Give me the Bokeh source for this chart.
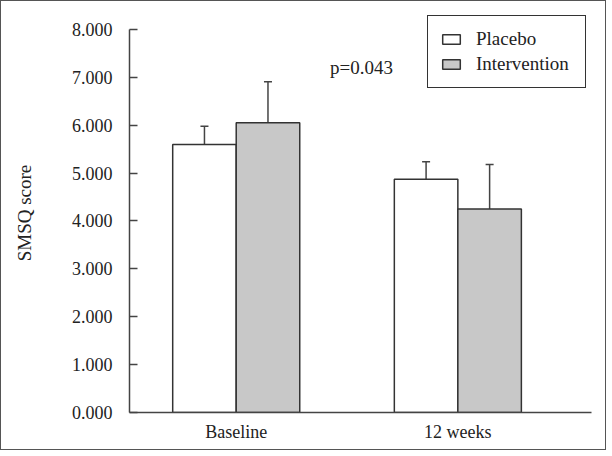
from bokeh.plotting import figure
from bokeh.models import (ColumnDataSource, Range1d, Whisker, TeeHead, Legend,
                          LegendItem, Label, FixedTicker, PrintfTickFormatter)
from bokeh.embed import file_html
from bokeh.resources import INLINE

# ---- data ----
categories = ["Baseline", "12 weeks"]
series = ["Placebo", "Intervention"]
placebo_mean = [5.60, 4.87]
placebo_sd = [0.38, 0.37]
intervention_mean = [6.05, 4.25]
intervention_sd = [0.86, 0.93]
y_ticks = [0, 1, 2, 3, 4, 5, 6, 7, 8]
p_text = "p=0.043"

FONT = "Liberation Serif"
BAR_W = 0.2866
group_x = [i + 1 for i in range(len(categories))]

p = figure(frame_width=462, frame_height=399,
           x_range=Range1d(0.5185, 2.603), y_range=Range1d(0, 8.334),
           output_backend="svg", toolbar_location=None,
           min_border_left=128, min_border_top=12,
           min_border_right=14, min_border_bottom=37)
p.styles = {"border": "1.5px solid #555"}
p.outline_line_color = None
p.xgrid.visible = False
p.ygrid.visible = False
p.background_fill_color = "white"
p.border_fill_color = "white"

fills = ["white", "#c8c8c8"]
means = [placebo_mean, intervention_mean]
sds = [placebo_sd, intervention_sd]
offsets = [-BAR_W / 2, BAR_W / 2]
items = []
for s, name in enumerate(series):
    xs = [g + offsets[s] for g in group_x]
    src = ColumnDataSource(dict(x=xs, top=means[s],
                                upper=[m + d for m, d in zip(means[s], sds[s])]))
    r = p.vbar(x="x", top="top", width=BAR_W, bottom=0, source=src,
               fill_color=fills[s], line_color="#333333", line_width=1.5)
    w = Whisker(base="x", lower="top", upper="upper", source=src,
                line_color="#444444", line_width=1.5,
                upper_head=TeeHead(size=8, line_color="#444444", line_width=1.5),
                lower_head=None)
    p.add_layout(w)
    items.append(LegendItem(label=name, renderers=[r]))

legend = Legend(items=items, location=(298, 324), padding=12, margin=0,
                glyph_width=22, glyph_height=12, label_standoff=14,
                label_width=97, label_height=20, spacing=3,
                label_text_font=FONT, label_text_font_size="19px",
                label_text_line_height=1.0,
                label_text_color="#222222",
                border_line_color="#333333", border_line_width=1.5,
                border_line_alpha=1.0,
                background_fill_alpha=1.0)
p.add_layout(legend, "center")

p.add_layout(Label(x=1.565, y=7.21, text=p_text, text_align="center",
                   text_baseline="middle", text_font=FONT,
                   text_font_size="19px", text_color="#222222"))

# y axis
ya = p.yaxis[0]
ya.bounds = (0, 8)
ya.ticker = FixedTicker(ticks=y_ticks)
ya.formatter = PrintfTickFormatter(format="%.3f")
ya.major_tick_in = 8
ya.major_tick_out = 0
ya.minor_tick_line_color = None
ya.major_label_standoff = 17
ya.major_label_text_font = FONT
ya.major_label_text_font_size = "18px"
ya.major_label_text_color = "#222222"
ya.axis_line_color = "#444444"
ya.axis_line_width = 1.5
ya.major_tick_line_color = "#444444"
ya.major_tick_line_width = 1.5
ya.axis_label = "SMSQ score"
ya.axis_label_text_font = FONT
ya.axis_label_text_font_size = "19px"
ya.axis_label_text_font_style = "normal"
ya.axis_label_text_color = "#222222"
ya.axis_label_standoff = 34

# x axis
xa = p.xaxis[0]
xa.ticker = FixedTicker(ticks=group_x)
xa.major_label_overrides = {g: c for g, c in zip(group_x, categories)}
xa.major_tick_line_color = None
xa.minor_tick_line_color = None
xa.major_label_standoff = 3
xa.major_label_text_font = FONT
xa.major_label_text_font_size = "18px"
xa.major_label_text_color = "#222222"
xa.axis_line_color = "#444444"
xa.axis_line_width = 1.5

open("out.html", "w").write(file_html(p, INLINE))
